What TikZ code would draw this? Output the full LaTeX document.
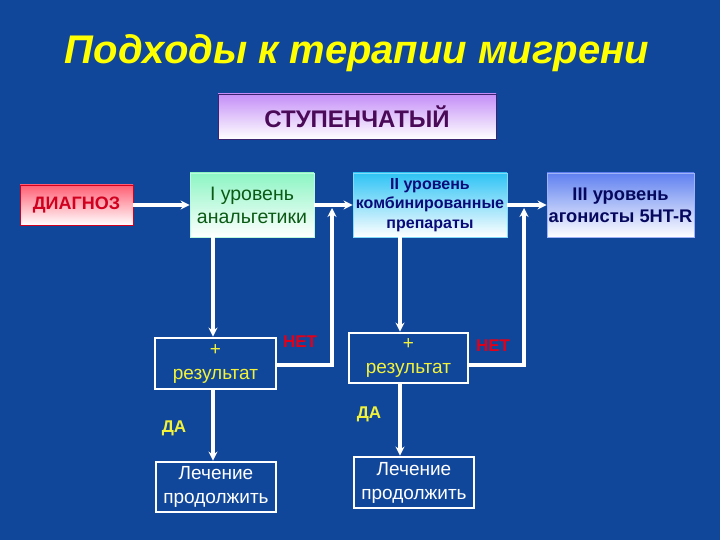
\documentclass[tikz,border=0pt]{standalone}
\usepackage{fontspec}
\setmainfont{Liberation Sans}
\usetikzlibrary{arrows.meta}
\definecolor{SlideBlue}{HTML}{11479B}
\definecolor{TitleYellow}{HTML}{FFFF00}
\definecolor{NoteYellow}{HTML}{F2F23A}
\definecolor{NoRed}{HTML}{E0001A}
\definecolor{StepLilac}{HTML}{C48EF7}
\definecolor{StepInk}{HTML}{4A0A57}
\definecolor{StepEdge}{HTML}{3A2470}
\definecolor{DiagPink}{HTML}{FF5F74}
\definecolor{DiagRed}{HTML}{D0001E}
\definecolor{LevelMint}{HTML}{8CF5C4}
\definecolor{LevelGreen}{HTML}{0A5A14}
\definecolor{LevelCyan}{HTML}{2EC3F5}
\definecolor{LevelNavy}{HTML}{0A0A78}
\definecolor{LevelBlue}{HTML}{5F80F0}
\definecolor{LevelInk}{HTML}{06085E}

\begin{document}
\begin{tikzpicture}[x=1pt,y=-1pt,
  every node/.style={align=center, inner sep=0pt, font=\fontsize{19}{24}\selectfont},
  shaded/.style={draw=#1!60!white, line width=0.8pt, bottom color=white},
  outline/.style={draw=white, line width=2.8pt},
  flow/.style={draw=white, line width=3.4pt, -{Stealth[length=9pt,width=9pt]}},
  back/.style={draw=white, line width=3.4pt, -{Stealth[length=9pt,width=9pt]}}]
  \fill[SlideBlue] (0,0) rectangle (720,540);
  \node[text=TitleYellow, font=\fontsize{40}{44}\bfseries\itshape\selectfont] (title) at (357,53) {Подходы к терапии мигрени};
  \node[shaded=StepEdge, top color=StepLilac, draw=StepEdge, text=StepInk, minimum width=278pt, minimum height=45pt,
    font=\fontsize{24}{26}\bfseries\selectfont] (step) at (357,116.5) {СТУПЕНЧАТЫЙ};
  \node[shaded=DiagRed, top color=DiagPink, draw=DiagRed, text=DiagRed, minimum width=113pt, minimum height=40pt,
    font=\fontsize{18}{20}\bfseries\selectfont] (diag) at (76.5,205) {ДИАГНОЗ};
  \node[shaded=LevelMint, top color=LevelMint, text=LevelGreen, minimum width=124pt, minimum height=64pt,
    font=\fontsize{19.5}{23}\selectfont] (lvl1) at (252,205) {I уровень\\анальгетики};
  \node[shaded=LevelCyan, top color=LevelCyan, text=LevelNavy, minimum width=154pt, minimum height=64pt,
    font=\fontsize{16}{19.5}\bfseries\selectfont] (lvl2) at (430,205) {II уровень\\комбинированные\\препараты};
  \node[shaded=LevelBlue, top color=LevelBlue, text=LevelInk, minimum width=147pt, minimum height=64pt,
    font=\fontsize{18.3}{22}\bfseries\selectfont] (lvl3) at (620.5,205) {III уровень\\агонисты 5HT-R};
  \node[outline, text=NoteYellow, minimum width=121pt, minimum height=51pt] (res1) at (215.5,363.5) {+\\результат};
  \node[outline, text=NoteYellow, minimum width=119pt, minimum height=50pt] (res2) at (408.5,358) {+\\результат};
  \node[outline, text=white, minimum width=120pt, minimum height=50pt] (cont1) at (216,487) {Лечение\\продолжить};
  \node[outline, text=white, minimum width=120pt, minimum height=51pt] (cont2) at (414,482.5) {Лечение\\продолжить};
  \node[text=NoRed, font=\fontsize{17}{20}\bfseries\selectfont] (no1) at (300,342) {НЕТ};
  \node[text=NoRed, font=\fontsize{17}{20}\bfseries\selectfont] (no2) at (493,346) {НЕТ};
  \node[text=NoteYellow, font=\fontsize{17}{20}\bfseries\selectfont] (yes1) at (174,428) {ДА};
  \node[text=NoteYellow, font=\fontsize{17}{20}\bfseries\selectfont] (yes2) at (369,414) {ДА};
  \coordinate (col1) at (213,0);
  \coordinate (col2) at (400,0);
  \coordinate (back1) at (332,208);
  \coordinate (back2) at (524,208);
  \draw[flow] (diag) -- (lvl1);
  \draw[flow] (lvl1) -- (lvl2);
  \draw[flow] (lvl2) -- (lvl3);
  \draw[flow] (lvl1.south -| col1) -- (res1.north -| col1);
  \draw[flow] (res1.south -| col1) -- (cont1.north -| col1);
  \draw[flow] (lvl2.south -| col2) -- (res2.north -| col2);
  \draw[flow] (res2.south -| col2) -- (cont2.north -| col2);
  \draw[back] ([yshift=-1.5pt]res1.east) -| (back1);
  \draw[back] ([yshift=-7pt]res2.east) -| (back2);
\end{tikzpicture}
\end{document}
